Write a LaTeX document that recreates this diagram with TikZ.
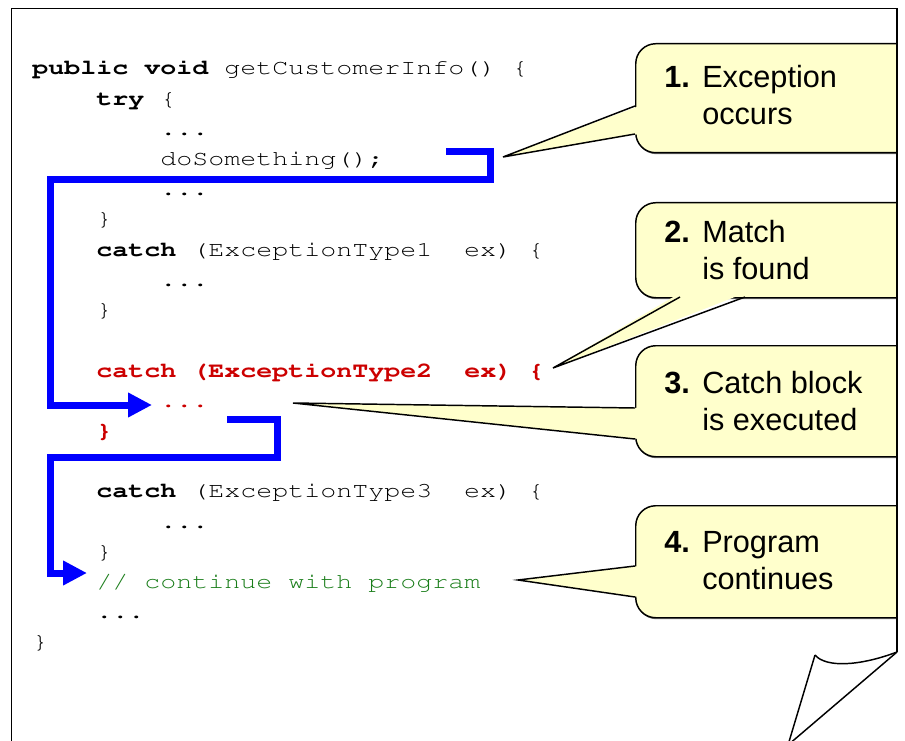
\documentclass[tikz,border=0pt]{standalone}
\usepackage[T1,TU]{fontenc}
\usepackage{fontspec}
\usepackage{graphicx}
\newfontfamily\callfont{Liberation Sans}
\usetikzlibrary{arrows.meta,shadows}
\definecolor{codered}{RGB}{204,0,0}
\definecolor{codegreen}{RGB}{25,125,25}
\definecolor{callfill}{RGB}{255,255,204}
\newcommand\cx[1]{\scalebox{1.25}[1]{#1}}
\begin{document}
\begin{tikzpicture}[x=0.75pt,y=-0.75pt,
  code/.style={anchor=base west, inner sep=0pt, font=\fontencoding{T1}\fontfamily{pcr}\fontseries{m}\fontshape{n}\fontsize{16pt}{18pt}\selectfont\frenchspacing},
  redcode/.style={code, text=codered},
  greencode/.style={code, text=codegreen},
  callbox/.style={draw=black, line width=1.1pt, fill=callfill, rounded corners=15pt, anchor=north west, inner sep=0pt, minimum width=225pt,
    drop shadow={shadow xshift=0.5pt, shadow yshift=-1.1pt, opacity=0.55, fill=black}},
  calltext/.style={anchor=base west, inner sep=0pt, font=\callfont\fontsize{23pt}{28pt}\selectfont},
  flow/.style={draw=blue, line width=5.25pt, -{Triangle[length=18pt,width=17.5pt]}},
  tail/.style={draw=black, line width=1.1pt},
  tailfill/.style={fill=callfill},
  page/.style={draw=black, line width=1.1pt}
]
\useasboundingbox (0,0) rectangle (905,741);
\fill[white] (0,0) rectangle (905,741);

% code lines
\node[code] (l0)  at (32,75.0)  {\cx{\textbf{public void} getCustomerInfo() \{}};
\node[code] (l1)  at (96,105.2) {\cx{\textbf{try} \{}};
\node[code] (l2)  at (160,135.4) {\cx{...}};
\node[code] (l3)  at (160,165.6) {\cx{doSomething();}};
\node[code] (l4)  at (160,195.8) {\cx{...}};
\node[code] (l5)  at (96,226.0) {\cx{\}}};
\node[code] (l6)  at (96,256.2) {\cx{\textbf{catch} (ExceptionType1~~ex) \{}};
\node[code] (l7)  at (160,286.4) {\cx{...}};
\node[code] (l8)  at (96,316.6) {\cx{\}}};
\node[redcode] (l10) at (96,377.0) {\cx{\textbf{catch (ExceptionType2~~ex) \{}}};
\node[redcode] (l11) at (160,407.2) {\cx{\textbf{...}}};
\node[redcode] (l12) at (96,437.4) {\cx{\textbf{\}}}};
\node[code] (l14) at (96,497.8) {\cx{\textbf{catch} (ExceptionType3~~ex) \{}};
\node[code] (l15) at (160,528.0) {\cx{...}};
\node[code] (l16) at (96,558.2) {\cx{\}}};
\node[greencode] (l17) at (96,588.4) {\cx{// continue with program}};
\node[code] (l18) at (96,618.6) {\cx{...}};
\node[code] (l19) at (32,648.8) {\cx{\}}};

% control flow arrows
\coordinate (f1s) at (446,152);
\coordinate (f1a) at (490,152);
\coordinate (f1b) at (490,180);
\coordinate (f1c) at (50,180);
\coordinate (f1d) at (50,405);
\coordinate (f1e) at (152,405);
\draw[flow] (f1s) -- (f1a) -- (f1b) -- (f1c) -- (f1d) -- (f1e);
\coordinate (f2s) at (227,419);
\coordinate (f2a) at (277,419);
\coordinate (f2b) at (277,457);
\coordinate (f2c) at (50,457);
\coordinate (f2d) at (50,573);
\coordinate (f2e) at (87,573);
\draw[flow] (f2s) -- (f2a) -- (f2b) -- (f2c) -- (f2d) -- (f2e);

% callouts
\begin{scope}
\clip (0,0) rectangle (897,741);
% 1
\node[callbox, minimum height=81.75pt] (c1) at (635,43) {};
\coordinate (p1) at (503,157);
\fill[tailfill] (p1) -- (639,106) -- (639,134) -- cycle;
\draw[tail] (635,106) -- (p1) -- (635,134);
\node[calltext] (n1) at (664,87.5) {\textbf{1.}};
\node[calltext] (t1a) at (702,87.5) {Exception};
\node[calltext] (t1b) at (702,125) {occurs};
% 2
\node[callbox, minimum height=71.25pt] (c2) at (635,202) {};
\coordinate (p2) at (553,368);
\fill[tailfill] (p2) -- (680,293) -- (745,293) -- cycle;
\draw[tail] (680,297) -- (p2) -- (745,297);
\node[calltext] (n2) at (664,243) {\textbf{2.}};
\node[calltext] (t2a) at (702,243) {Match};
\node[calltext] (t2b) at (702,280) {is found};
% 3
\node[callbox, minimum height=83.25pt] (c3) at (635,345) {};
\coordinate (p3) at (293,403);
\fill[tailfill] (p3) -- (639,408) -- (639,439) -- cycle;
\draw[tail] (635,408) -- (p3) -- (635,439);
\node[calltext] (n3) at (664,393) {\textbf{3.}};
\node[calltext] (t3a) at (702,393) {Catch block};
\node[calltext] (t3b) at (702,430) {is executed};
% 4
\node[callbox, minimum height=84pt] (c4) at (635,505) {};
\coordinate (p4) at (518,580);
\fill[tailfill] (p4) -- (639,566) -- (639,597) -- cycle;
\draw[tail] (635,566) -- (p4) -- (635,597);
\node[calltext] (n4) at (664,552) {\textbf{4.}};
\node[calltext] (t4a) at (702,552) {Program};
\node[calltext] (t4b) at (702,589) {continues};
\end{scope}

% page with curled corner
\draw[page] (11.5,745) -- (11.5,8.5) -- (897,8.5) -- (897,652);
\coordinate (curl) at (815,655);
\coordinate (corner) at (897,652);
\coordinate (foot) at (788,745);
\draw[page] (curl) .. controls (826,668) and (860,666) .. (corner);
\draw[page] (curl) -- (foot) -- (corner);
\end{tikzpicture}
\end{document}
